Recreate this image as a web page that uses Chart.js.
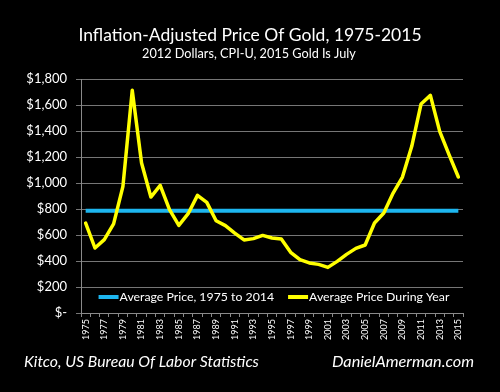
<!DOCTYPE html>
<html>
<head>
<meta charset="utf-8">
<script src="https://cdn.jsdelivr.net/npm/chart.js@4.4.1/dist/chart.umd.min.js"></script>
<style>
html,body{margin:0;padding:0;background:#000;}
#wrap{position:relative;width:500px;height:392px;}
canvas{display:block;}
</style>
</head>
<body>
<div id="wrap"><canvas id="c" width="500" height="392"></canvas></div>
<script>
const years = ['1975','1976','1977','1978','1979','1980','1981','1982','1983','1984','1985','1986','1987','1988','1989','1990','1991','1992','1993','1994','1995','1996','1997','1998','1999','2000','2001','2002','2003','2004','2005','2006','2007','2008','2009','2010','2011','2012','2013','2014','2015'];
const goldPrice = [692,500,564,685,974,1713,1154,892,982,795,674,764,905,851,710,672,615,562,572,597,577,569,467,410,385,374,351,397,451,497,523,692,769,923,1046,1282,1608,1674,1397,1218,1046];
const avgPrice = [787,787,787,787,787,787,787,787,787,787,787,787,787,787,787,787,787,787,787,787,787,787,787,787,787,787,787,787,787,787,787,787,787,787,787,787,787,787,787,787,787];
const yTicks = [0,200,400,600,800,1000,1200,1400,1600,1800];
const titleText = 'Inflation-Adjusted Price Of Gold, 1975-2015';
const subtitleText = '2012 Dollars, CPI-U, 2015 Gold Is July';
const sourceText = 'Kitco, US Bureau Of Labor Statistics';
const siteText = 'DanielAmerman.com';

const FONT = 'Lato, "Open Sans", sans-serif';

const decor = {
  id: 'decor',
  afterDraw(chart) {
    const ctx = chart.ctx;
    const ca = chart.chartArea;
    ctx.save();
    ctx.fillStyle = '#fff';
    ctx.textBaseline = 'middle';
    ctx.textAlign = 'center';
    ctx.font = '17.5px ' + FONT;
    ctx.fillText(titleText, 250, 35);
    ctx.font = '12.7px ' + FONT;
    ctx.fillText(subtitleText, 249, 54);
    ctx.font = 'italic 15.8px ' + FONT;
    ctx.textAlign = 'left';
    ctx.fillText(sourceText, 24, 362);
    ctx.font = 'italic 16.3px ' + FONT;
    ctx.textAlign = 'right';
    ctx.fillText(siteText, 474, 362);
    // legend inside chart area
    ctx.font = '12.3px ' + FONT;
    const items = [chart.data.datasets[1], chart.data.datasets[0]];
    const lineLen = 20, gap = 14;
    const widths = items.map(d => lineLen + 1 + ctx.measureText(d.label).width);
    const total = widths.reduce((a,b)=>a+b,0) + gap*(items.length-1);
    let x = (ca.left + ca.right)/2 - total/2 + 2;
    const y = 297;
    items.forEach((d,i) => {
      ctx.fillStyle = '#000';
      ctx.fillRect(x-2, y-9, widths[i]+4, 18);
      ctx.strokeStyle = d.borderColor;
      ctx.lineWidth = 4;
      ctx.beginPath();
      ctx.moveTo(x, y);
      ctx.lineTo(x+lineLen, y);
      ctx.stroke();
      ctx.fillStyle = '#fff';
      ctx.textAlign = 'left';
      ctx.fillText(d.label, x+lineLen+1, y);
      x += widths[i] + gap;
    });
    ctx.restore();
  }
};

new Chart(document.getElementById('c'), {
  type: 'line',
  data: {
    labels: years,
    datasets: [
      {label: 'Average Price During Year', data: goldPrice, borderColor: '#FFFF00', borderWidth: 3.5, borderJoinStyle: 'round', borderCapStyle: 'round', pointRadius: 0, tension: 0, order: 0},
      {label: 'Average Price, 1975 to 2014', data: avgPrice, borderColor: '#1DB6EF', borderWidth: 4, pointRadius: 0, tension: 0, order: 1}
    ]
  },
  options: {
    responsive: false,
    animation: false,
    events: [],
    layout: {padding: {left: 0, right: 37, top: 79, bottom: 0}},
    plugins: {legend: {display: false}, tooltip: {enabled: false}, title: {display: false}},
    scales: {
      x: {
        type: 'category',
        offset: true,
        afterFit(s) { s.height = 79; },
        grid: {display: true, drawOnChartArea: false, offset: true, color: '#8a8a8a', tickLength: 4},
        border: {display: true, color: '#8a8a8a', width: 1},
        ticks: {color: '#fff', font: {family: FONT, size: 9}, minRotation: 90, maxRotation: 90, autoSkip: false, padding: 2,
          callback(v, i) { return i % 2 === 0 ? this.getLabelForValue(v) : ''; }}
      },
      y: {
        min: 0, max: 1800,
        afterFit(s) { s.width = 81; },
        afterBuildTicks(s) { s.ticks = yTicks.map(v => ({value: v})); },
        grid: {color: '#767676', lineWidth: 1, tickLength: 5, drawTicks: true},
        border: {display: true, color: '#8a8a8a', width: 1},
        ticks: {color: '#fff', font: {family: FONT, size: 13}, padding: 9,
          callback: v => v === 0 ? '$-' : '$' + v.toLocaleString('en-US')}
      }
    }
  },
  plugins: [decor]
});
</script>
</body>
</html>
